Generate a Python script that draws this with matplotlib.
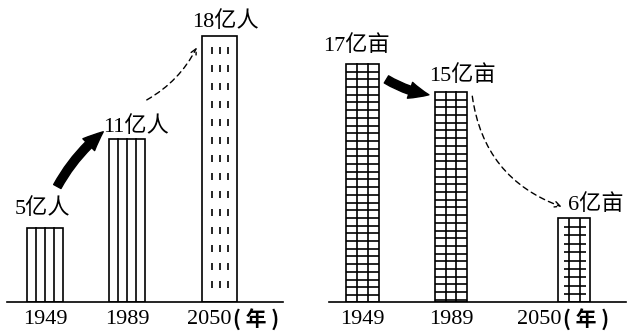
import numpy as np
import matplotlib.pyplot as plt

years = ['1949', '1989', '2050']
population = [5, 11, 18]
farmland = [17, 15, 6]
pop_labels = ['5亿人', '11亿人', '18亿人']
land_labels = ['17亿亩', '15亿亩', '6亿亩']

plt.rcParams['font.family'] = ['Liberation Serif', 'Noto Sans CJK SC']

W, H = 628, 333
fig = plt.figure(figsize=(W / 100, H / 100), dpi=100)
ax1 = fig.add_axes([7 / W, 31 / H, 276 / W, 302 / H])
ax2 = fig.add_axes([329 / W, 31 / H, 297 / W, 302 / H])

pos1 = [0, 1, 2.13]
pos2 = [0, 1, 2.39]
w1, w2 = 0.43, 0.37
fs = 16


def setup(ax, xlim, ylim):
    ax.set_xlim(*xlim)
    ax.set_ylim(*ylim)
    for s in ['top', 'left', 'right']:
        ax.spines[s].set_visible(False)
    ax.spines['bottom'].set_linewidth(1.2)
    ax.set_yticks([])
    ax.set_xticks([0, 1, 2])
    ax.set_xticklabels(years, fontsize=fs)
    ax.tick_params(axis='x', length=0, pad=6)
    ax.patch.set_alpha(0)
    ax.annotate('( 年 )', xy=(2, 0), xycoords=('data', 'axes fraction'),
                xytext=(17, -5), textcoords='offset points',
                ha='left', va='top', fontsize=15, fontweight='bold',
                family=['Noto Sans CJK SC'])


setup(ax1, (-0.463, 2.90), (0, 20.4))
setup(ax2, (-0.379, 2.977), (0, 21.57))

# left: population bars
ax1.bar(pos1, population, width=w1, color='white', edgecolor='black', linewidth=1.2, zorder=2)
for i in range(2):
    x0 = pos1[i] - w1 / 2
    for k in range(1, 4):
        ax1.plot([x0 + k * w1 / 4] * 2, [0, population[i]], color='black', lw=1.2, zorder=3)
x0 = pos1[2] - w1 / 2
for f in (0.28, 0.5, 0.72):
    ax1.plot([x0 + f * w1] * 2, [population[2] - 0.75, 0.2], color='black', lw=1.2,
             dashes=(4.2, 6.6), zorder=3)

for i in range(3):
    ax1.annotate(pop_labels[i], xy=(pos1[i], population[i]),
                 xytext=([-2, 6.5, 4][i], [14, 9, 10][i]), textcoords='offset points',
                 ha='center', va='center', fontsize=fs)

# right: farmland bars
ax2.bar(pos2, farmland, width=w2, color='white', edgecolor='black', linewidth=1.2, zorder=2)
for i in range(3):
    x0 = pos2[i] - w2 / 2
    top = farmland[i] if i < 2 else farmland[i] - 0.1
    for k in (1, 2):
        ax2.plot([x0 + k * w2 / 3] * 2, [0, top], color='black', lw=1.2, zorder=3)
    if i < 2:
        ys = np.arange(farmland[i] - 0.55, 0.1, -0.55)
        ax2.hlines(ys, x0, x0 + w2, color='black', lw=1.2, zorder=3)
    else:
        ys = np.arange(farmland[i] - 0.65, 0.1, -0.6)
        ax2.hlines(ys, x0 + 0.18 * w2, x0 + 0.85 * w2, color='black', lw=1.2, zorder=3)

for i in range(3):
    ax2.annotate(land_labels[i], xy=(pos2[i], farmland[i]),
                 xytext=([-4.7, 8.6, 15.8][i], [13, 11.5, 9.4][i]), textcoords='offset points',
                 ha='center', va='center', fontsize=fs)

# arrows
solid = dict(arrowstyle='simple,head_length=0.7,head_width=0.6,tail_width=0.3',
             fc='black', ec='black', shrinkA=0, shrinkB=0, mutation_scale=20)
dashed = dict(arrowstyle='->,head_length=0.4,head_width=0.2', color='black', lw=1,
              linestyle=(0, (4, 3)), shrinkA=0, shrinkB=0)

ax1.annotate('', xy=(pos1[1] - 0.29, population[1] + 0.5),
             xytext=(pos1[0] + 0.15, population[0] + 2.8),
             arrowprops=dict(solid, connectionstyle='arc3,rad=-0.1'))
ax1.annotate('', xy=(pos1[2] - 0.28, population[2] - 0.8),
             xytext=(pos1[1] + 0.24, population[1] + 2.65),
             arrowprops=dict(dashed, connectionstyle='arc3,rad=0.15'))

ax2.annotate('', xy=(pos2[1] - 0.25, farmland[1] - 0.2),
             xytext=(pos2[0] + 0.27, farmland[0] - 1.1),
             arrowprops=dict(solid, connectionstyle='arc3,rad=0.1'))
ax2.annotate('', xy=(pos2[2] - 0.14, farmland[2] + 0.8),
             xytext=(pos2[1] + 0.24, farmland[1] - 0.3),
             arrowprops=dict(dashed, connectionstyle='arc3,rad=0.3'))

fig.savefig('out.png', dpi=100)
